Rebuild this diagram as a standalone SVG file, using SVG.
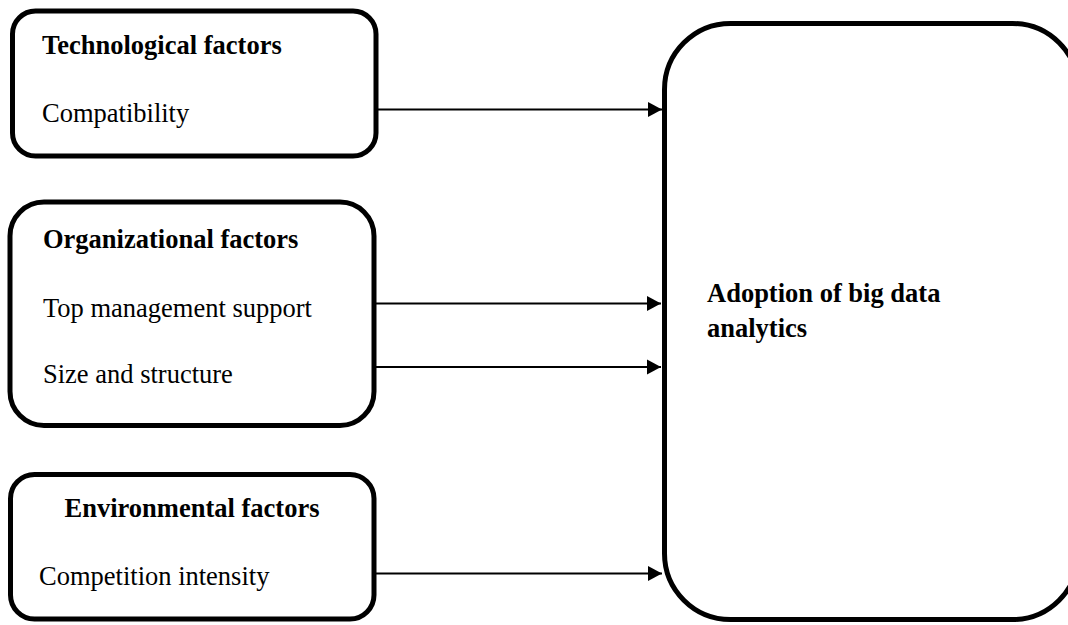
<svg xmlns="http://www.w3.org/2000/svg" width="1068" height="625" viewBox="0 0 1068 625">
  <style>
    .box { fill: #ffffff; stroke: #000000; stroke-width: 5; }
    .head { font-family: "Liberation Serif", "Times New Roman", serif; font-size: 26.5px; font-weight: bold; fill: #000000; }
    .item { font-family: "Liberation Serif", "Times New Roman", serif; font-size: 26.5px; fill: #000000; }
    .link { stroke: #000000; stroke-width: 2.2; fill: none; }
  </style>
  <defs>
    <marker id="arrow" markerUnits="userSpaceOnUse" markerWidth="15" markerHeight="16" refX="14" refY="8" orient="auto">
      <path d="M0,0.5 L14,8 L0,15.5 Z" fill="#000000"/>
    </marker>
  </defs>
  <rect width="1068" height="625" fill="#ffffff"/>

  <!-- target construct (runs past the right edge) -->
  <g id="adoption">
    <rect class="box" x="664.5" y="23.5" width="414" height="596" rx="66" ry="66"/>
    <text class="head" x="707" y="302">Adoption of big data</text>
    <text class="head" x="707" y="337">analytics</text>
  </g>

  <g id="technological">
    <rect class="box" x="12.5" y="11" width="363.5" height="145" rx="23" ry="23"/>
    <text class="head" x="42" y="54">Technological factors</text>
    <text class="item" x="42" y="122">Compatibility</text>
  </g>

  <g id="organizational">
    <rect class="box" x="10" y="202" width="364" height="223.5" rx="34" ry="34"/>
    <text class="head" x="43" y="248">Organizational factors</text>
    <text class="item" x="43" y="317">Top management support</text>
    <text class="item" x="43" y="383">Size and structure</text>
  </g>

  <g id="environmental">
    <rect class="box" x="10.5" y="474.5" width="363.5" height="144.5" rx="24" ry="24"/>
    <text class="head" x="192" y="517" text-anchor="middle">Environmental factors</text>
    <text class="item" x="39" y="585">Competition intensity</text>
  </g>

  <g id="connectors">
    <line class="link" x1="378" y1="109.5" x2="662" y2="109.5" marker-end="url(#arrow)"/>
    <line class="link" x1="376" y1="303.5" x2="661" y2="303.5" marker-end="url(#arrow)"/>
    <line class="link" x1="376" y1="367" x2="661" y2="367" marker-end="url(#arrow)"/>
    <line class="link" x1="376" y1="573.5" x2="662" y2="573.5" marker-end="url(#arrow)"/>
  </g>
</svg>
